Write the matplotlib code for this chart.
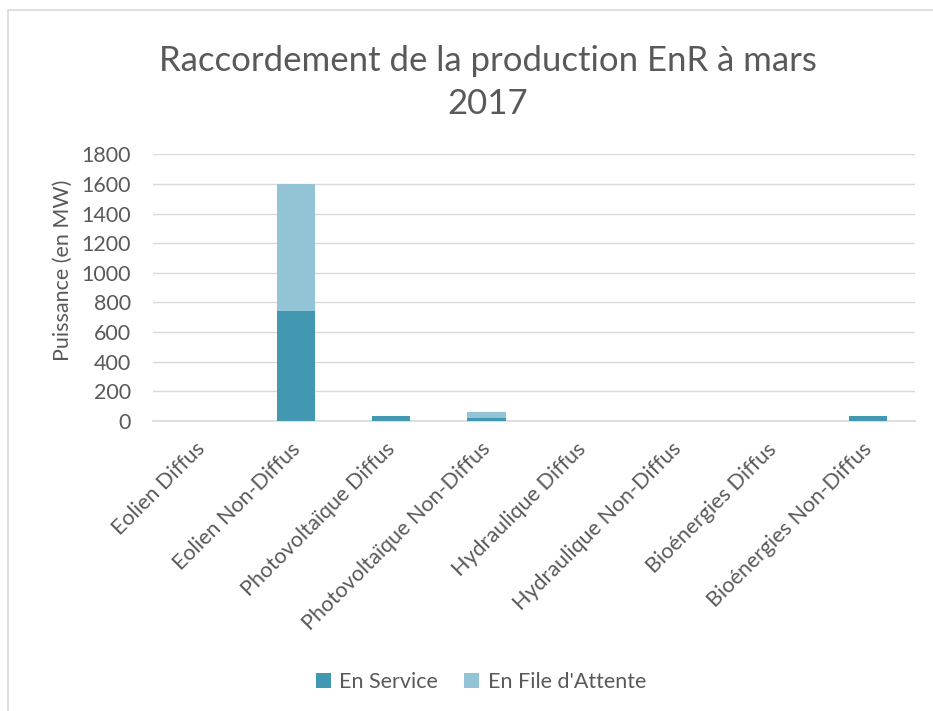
import matplotlib.pyplot as plt
import matplotlib.patches as mpatches
import matplotlib.transforms as mtransforms
import numpy as np

plt.rcParams["font.family"] = ["Lato", "DejaVu Sans"]

categories = ["Eolien Diffus", "Eolien Non-Diffus", "Photovoltaïque Diffus",
              "Photovoltaïque Non-Diffus", "Hydraulique Diffus",
              "Hydraulique Non-Diffus", "Bioénergies Diffus",
              "Bioénergies Non-Diffus"]
en_service = [0, 740, 30, 20, 0, 0, 0, 30]
en_attente = [0, 860, 0, 40, 0, 0, 0, 0]

c_service = "#4298B0"
c_attente = "#93C4D6"
grey_txt = "#595959"

fig = plt.figure(figsize=(9.33, 7.11), dpi=100)
ax = fig.add_axes([0.164, 0.408, 0.817, 0.375])

x = np.arange(len(categories))
ax.bar(x, en_service, width=0.4, color=c_service, label="En Service", zorder=3)
ax.bar(x, en_attente, width=0.4, bottom=en_service, color=c_attente,
       label="En File d'Attente", zorder=3)

ax.set_xlim(-0.5, len(categories) - 0.5)
ax.set_ylim(0, 1800)
ax.set_yticks(np.arange(0, 1801, 200))
ax.grid(axis="y", color="#D9D9D9", linewidth=1, zorder=0)
for s in ["top", "right", "left"]:
    ax.spines[s].set_visible(False)
ax.spines["bottom"].set_color("#D9D9D9")
ax.spines["bottom"].set_linewidth(1.2)
ax.tick_params(length=0, labelsize=15.5, colors=grey_txt)
ax.tick_params(axis="y", pad=16)
ax.tick_params(axis="x", pad=13)
ax.set_xticks(x)
ax.set_xticklabels(categories, rotation=45, ha="right", rotation_mode="anchor")
shift = mtransforms.ScaledTranslation(-0.06, 0, fig.dpi_scale_trans)
for lbl in ax.get_xticklabels():
    lbl.set_transform(lbl.get_transform() + shift)
ax.set_ylabel("Puissance (en MW)", fontsize=15.5, color=grey_txt)
ax.yaxis.set_label_coords(-0.105, 0.566)

fig.text(488 / 933, 1 - 71 / 711, "Raccordement de la production EnR à mars",
         ha="center", va="baseline", fontsize=25, color=grey_txt)
fig.text(488 / 933, 1 - 114 / 711, "2017",
         ha="center", va="baseline", fontsize=25, color=grey_txt)

fig.legend(loc="center", bbox_to_anchor=(481 / 933, 1 - 682 / 711), ncol=2,
           frameon=False, fontsize=15.5, labelcolor=grey_txt, handlelength=0.7,
           handleheight=0.7, columnspacing=1.2, handletextpad=0.4)

# chart area border
fig.patches.append(mpatches.Rectangle((8 / 933, -0.1), 1.2, 1 - 10 / 711 + 0.1,
                                      transform=fig.transFigure, fill=False,
                                      edgecolor="#D9D9D9", linewidth=1.2))

fig.savefig("out.png", dpi=100)
